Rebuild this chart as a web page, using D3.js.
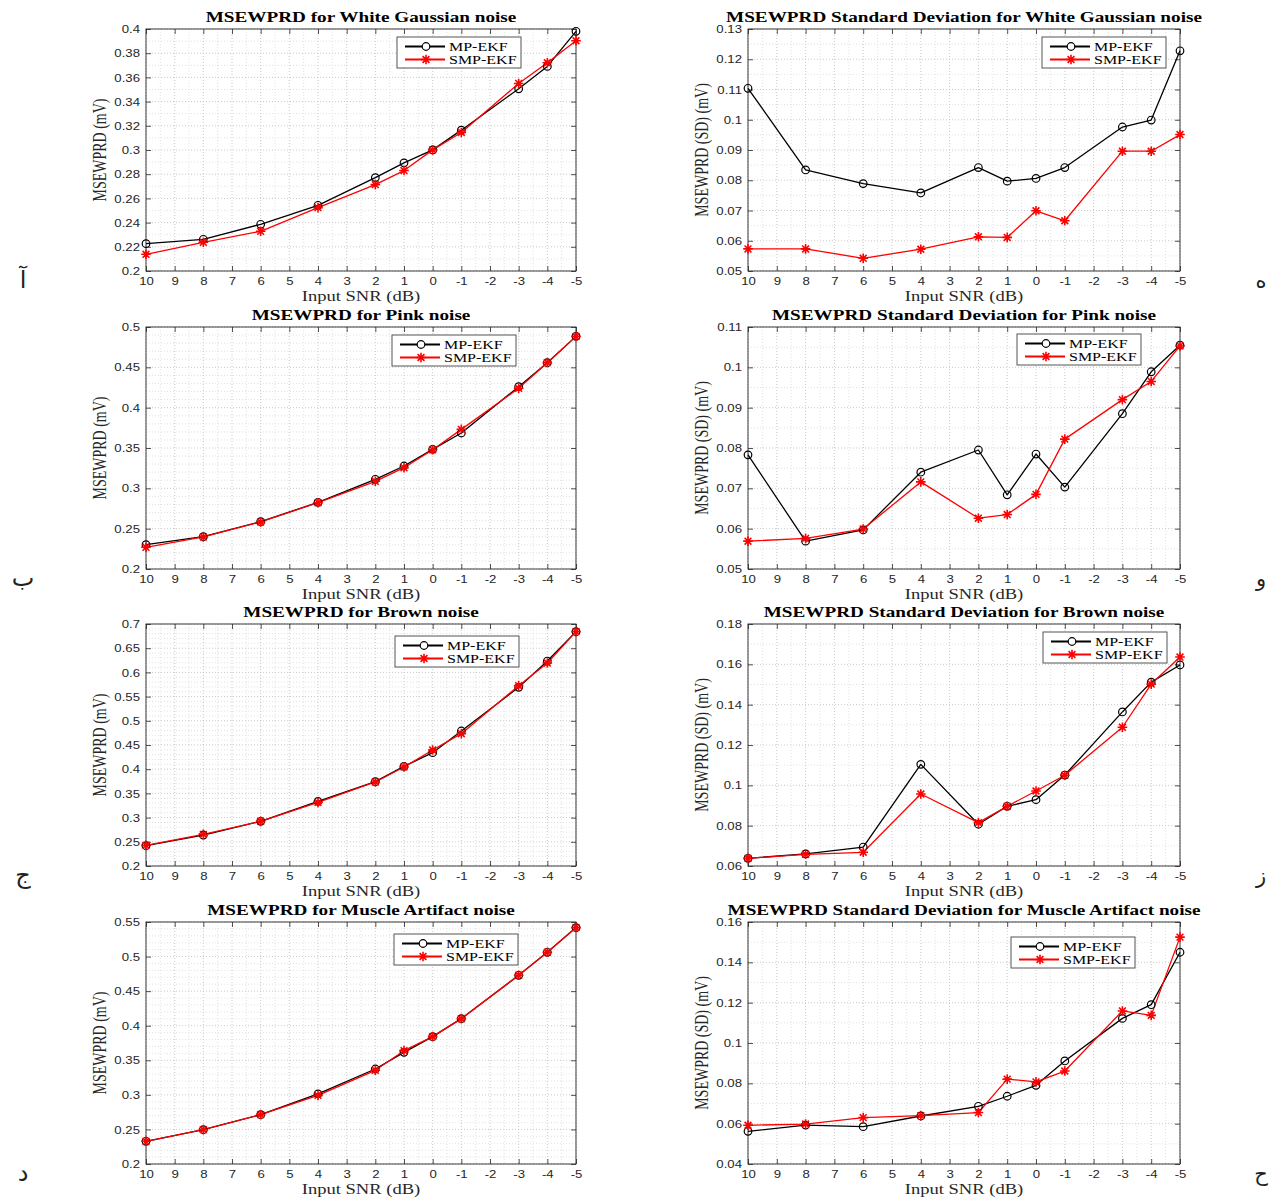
<!DOCTYPE html>
<html>
<head>
<meta charset="utf-8">
<script src="https://cdn.jsdelivr.net/npm/d3@7"></script>
<style>
  html, body { margin: 0; padding: 0; background: #fff; }
  svg { display: block; }
</style>
</head>
<body>
<svg id="fig" width="1274" height="1198"></svg>
<script>
// ---- data ---------------------------------------------------------------
const snrTicks = [10, 9, 8, 7, 6, 5, 4, 3, 2, 1, 0, -1, -2, -3, -4, -5];
const snrPoints = [10, 8, 6, 4, 2, 1, 0, -1, -3, -4, -5];
const seriesNames = ["MP-EKF", "SMP-EKF"];

const whiteMp  = [0.2226, 0.2262, 0.2386, 0.2543, 0.2772, 0.2894, 0.3001, 0.3164, 0.3506, 0.3691, 0.3981];
const whiteSmp = [0.2138, 0.2237, 0.2328, 0.2524, 0.2714, 0.2830, 0.3001, 0.3145, 0.3550, 0.3721, 0.3903];
const whiteSdMp  = [0.1104, 0.0834, 0.0789, 0.0758, 0.0842, 0.0797, 0.0806, 0.0842, 0.0976, 0.0999, 0.1228];
const whiteSdSmp = [0.0573, 0.0573, 0.0542, 0.0572, 0.0613, 0.0611, 0.0699, 0.0666, 0.0896, 0.0896, 0.0951];

const pinkMp  = [0.2302, 0.2401, 0.2587, 0.2826, 0.3112, 0.3277, 0.3483, 0.3686, 0.4260, 0.4558, 0.4884];
const pinkSmp = [0.2269, 0.2397, 0.2583, 0.2822, 0.3087, 0.3256, 0.3479, 0.3731, 0.4240, 0.4558, 0.4884];
const pinkSdMp  = [0.0783, 0.0569, 0.0597, 0.0740, 0.0795, 0.0684, 0.0785, 0.0703, 0.0885, 0.0989, 0.1055];
const pinkSdSmp = [0.0569, 0.0576, 0.0599, 0.0716, 0.0626, 0.0635, 0.0685, 0.0822, 0.0920, 0.0965, 0.1053];

const brownMp  = [0.2420, 0.2640, 0.2923, 0.3336, 0.3742, 0.4059, 0.4342, 0.4789, 0.5691, 0.6235, 0.6842];
const brownSmp = [0.2427, 0.2654, 0.2923, 0.3315, 0.3736, 0.4045, 0.4397, 0.4734, 0.5726, 0.6194, 0.6842];
const brownSdMp  = [0.0638, 0.0660, 0.0694, 0.1104, 0.0807, 0.0896, 0.0929, 0.1051, 0.1364, 0.1512, 0.1597];
const brownSdSmp = [0.0638, 0.0658, 0.0668, 0.0957, 0.0815, 0.0896, 0.0972, 0.1050, 0.1288, 0.1502, 0.1636];

const muscleMp  = [0.2328, 0.2497, 0.2714, 0.3013, 0.3374, 0.3615, 0.3842, 0.4102, 0.4729, 0.5062, 0.5419];
const muscleSmp = [0.2328, 0.2497, 0.2714, 0.2993, 0.3355, 0.3639, 0.3842, 0.4102, 0.4729, 0.5062, 0.5419];
const muscleSdMp  = [0.0562, 0.0593, 0.0585, 0.0638, 0.0686, 0.0736, 0.0790, 0.0911, 0.1122, 0.1190, 0.1450];
const muscleSdSmp = [0.0592, 0.0598, 0.0630, 0.0640, 0.0655, 0.0821, 0.0807, 0.0861, 0.1159, 0.1137, 0.1525];

const ticksW   = [0.2, 0.22, 0.24, 0.26, 0.28, 0.3, 0.32, 0.34, 0.36, 0.38, 0.4];
const ticksWsd = [0.05, 0.06, 0.07, 0.08, 0.09, 0.1, 0.11, 0.12, 0.13];
const ticksP   = [0.2, 0.25, 0.3, 0.35, 0.4, 0.45, 0.5];
const ticksPsd = [0.05, 0.06, 0.07, 0.08, 0.09, 0.1, 0.11];
const ticksB   = [0.2, 0.25, 0.3, 0.35, 0.4, 0.45, 0.5, 0.55, 0.6, 0.65, 0.7];
const ticksBsd = [0.06, 0.08, 0.1, 0.12, 0.14, 0.16, 0.18];
const ticksM   = [0.2, 0.25, 0.3, 0.35, 0.4, 0.45, 0.5, 0.55];
const ticksMsd = [0.04, 0.06, 0.08, 0.1, 0.12, 0.14, 0.16];

const titles = [
  "MSEWPRD for White Gaussian noise",
  "MSEWPRD Standard Deviation for White Gaussian noise",
  "MSEWPRD for Pink noise",
  "MSEWPRD Standard Deviation for Pink noise",
  "MSEWPRD for Brown noise",
  "MSEWPRD Standard Deviation for Brown noise",
  "MSEWPRD for Muscle Artifact noise",
  "MSEWPRD Standard Deviation for Muscle Artifact noise"
];
const panelLetters = ["آ", "ه", "ب", "و", "ج", "ز", "د", "ح"];
const xLabel = "Input SNR (dB)";
const yLabels = ["MSEWPRD (mV)", "MSEWPRD (SD) (mV)"];

// ---- layout -------------------------------------------------------------
const SX = 1.28;            // horizontal stretch of all lettering
const colX = [[146, 576], [748, 1180]];
const rowY = [[29, 271], [327, 569], [624, 866], [922, 1164]];

const panels = [
  { mp: whiteMp,   smp: whiteSmp,   ticks: ticksW,   minor: 0.01,  col: 0, row: 0, leg: [397, 37] },
  { mp: whiteSdMp, smp: whiteSdSmp, ticks: ticksWsd, minor: 0.005, col: 1, row: 0, leg: [1042, 37] },
  { mp: pinkMp,    smp: pinkSmp,    ticks: ticksP,   minor: 0.01,  col: 0, row: 1, leg: [392, 335] },
  { mp: pinkSdMp,  smp: pinkSdSmp,  ticks: ticksPsd, minor: 0.005, col: 1, row: 1, leg: [1017, 334] },
  { mp: brownMp,   smp: brownSmp,   ticks: ticksB,   minor: 0.01,  col: 0, row: 2, leg: [395, 636] },
  { mp: brownSdMp, smp: brownSdSmp, ticks: ticksBsd, minor: 0.01,  col: 1, row: 2, leg: [1043, 632] },
  { mp: muscleMp,  smp: muscleSmp,  ticks: ticksM,   minor: 0.01,  col: 0, row: 3, leg: [394, 934] },
  { mp: muscleSdMp,smp: muscleSdSmp,ticks: ticksMsd, minor: 0.01,  col: 1, row: 3, leg: [1011, 937] }
];

const svg = d3.select("#fig");
const fmt = v => String(+v.toFixed(4));
const asteriskPath = (() => {
  const r = 4.8, d = 3.4;
  return `M${-r},0L${r},0M0,${-r}L0,${r}M${-d},${-d}L${d},${d}M${-d},${d}L${d},${-d}`;
})();
const colors = ["#000000", "#ff0000"];

function stext(g, x, y, str, extra) {
  const t = g.append("text")
    .attr("transform", `translate(${x},${y}) scale(${SX},1)` + (extra || ""))
    .text(str);
  return t;
}

panels.forEach((p, i) => {
  const [x0, x1] = colX[p.col];
  const [y0, y1] = rowY[p.row];
  const yMin = p.ticks[0], yMax = p.ticks[p.ticks.length - 1];

  const x = d3.scaleLinear().domain([10, -5]).range([x0, x1]);
  const y = d3.scaleLinear().domain([yMin, yMax]).range([y1, y0]);

  const g = svg.append("g");

  // background
  g.append("rect").attr("x", x0).attr("y", y0)
    .attr("width", x1 - x0).attr("height", y1 - y0).attr("fill", "#fff");

  // minor grid
  const xMinor = d3.range(10, -5.01, -0.5).filter(v => !Number.isInteger(v));
  const nMinor = Math.round((yMax - yMin) / p.minor);
  const yMinor = d3.range(0, nMinor + 1).map(k => yMin + k * p.minor)
    .filter(v => !p.ticks.some(t => Math.abs(t - v) < 1e-9));
  const grid = g.append("g").attr("stroke-dasharray", "1,2").attr("fill", "none");
  grid.selectAll(".mx").data(xMinor).join("line")
    .attr("x1", d => x(d)).attr("x2", d => x(d)).attr("y1", y0).attr("y2", y1)
    .attr("stroke", "#d9d9d9").attr("stroke-width", 0.8);
  grid.selectAll(".my").data(yMinor).join("line")
    .attr("y1", d => y(d)).attr("y2", d => y(d)).attr("x1", x0).attr("x2", x1)
    .attr("stroke", "#d9d9d9").attr("stroke-width", 0.8);
  // major grid
  grid.selectAll(".gx").data(snrTicks).join("line")
    .attr("x1", d => x(d)).attr("x2", d => x(d)).attr("y1", y0).attr("y2", y1)
    .attr("stroke", "#bdbdbd").attr("stroke-width", 0.8);
  grid.selectAll(".gy").data(p.ticks).join("line")
    .attr("y1", d => y(d)).attr("y2", d => y(d)).attr("x1", x0).attr("x2", x1)
    .attr("stroke", "#bdbdbd").attr("stroke-width", 0.8);

  // axes (ticks drawn inward on all four sides)
  const axStyle = sel => {
    sel.select(".domain").remove();
    sel.selectAll(".tick line").attr("stroke", "#262626").attr("stroke-width", 0.8);
    sel.selectAll("text").attr("font-family", "'Liberation Sans', Arial, sans-serif")
      .attr("font-size", 10.3).attr("fill", "#262626");
  };
  const bottom = g.append("g").attr("transform", `translate(0,${y1})`)
    .call(d3.axisBottom(x).tickValues(snrTicks).tickSize(-5).tickFormat(d => String(d)))
    .call(axStyle);
  bottom.selectAll(".tick text")
    .attr("y", null).attr("dy", null)
    .attr("transform", `translate(0,14) scale(${SX},1)`);
  g.append("g").attr("transform", `translate(0,${y0})`)
    .call(d3.axisTop(x).tickValues(snrTicks).tickSize(-5).tickFormat(""))
    .call(axStyle);
  const left = g.append("g").attr("transform", `translate(${x0},0)`)
    .call(d3.axisLeft(y).tickValues(p.ticks).tickSize(-5).tickFormat(fmt))
    .call(axStyle);
  left.selectAll(".tick text")
    .attr("x", null).attr("dy", null)
    .attr("transform", `translate(-6,3.6) scale(${SX},1)`);
  g.append("g").attr("transform", `translate(${x1},0)`)
    .call(d3.axisRight(y).tickValues(p.ticks).tickSize(-5).tickFormat(""))
    .call(axStyle);

  // plot box
  g.append("rect").attr("x", x0).attr("y", y0)
    .attr("width", x1 - x0).attr("height", y1 - y0)
    .attr("fill", "none").attr("stroke", "#262626").attr("stroke-width", 0.9);

  // series
  const line = d3.line().x((d, k) => x(snrPoints[k])).y(d => y(d));
  [p.mp, p.smp].forEach((vals, s) => {
    g.append("path").datum(vals).attr("d", line)
      .attr("fill", "none").attr("stroke", colors[s]).attr("stroke-width", 1.3)
      .attr("stroke-linejoin", "round");
  });
  // markers: black circles for MP-EKF, red asterisks for SMP-EKF
  g.append("g").selectAll("circle").data(p.mp).join("circle")
    .attr("cx", (d, k) => x(snrPoints[k])).attr("cy", d => y(d)).attr("r", 3.8)
    .attr("fill", "none").attr("stroke", colors[0]).attr("stroke-width", 1.2);
  g.append("g").selectAll("path").data(p.smp).join("path")
    .attr("transform", (d, k) => `translate(${x(snrPoints[k])},${y(d)})`)
    .attr("d", asteriskPath).attr("fill", "none")
    .attr("stroke", colors[1]).attr("stroke-width", 1.6);

  // title
  stext(g, (x0 + x1) / 2, y0 - 7, titles[i])
    .attr("text-anchor", "middle")
    .attr("font-family", "'Liberation Serif', 'Times New Roman', serif")
    .attr("font-weight", "bold").attr("font-size", 15).attr("fill", "#000");

  // axis labels
  stext(g, (x0 + x1) / 2, y1 + 30, xLabel)
    .attr("text-anchor", "middle")
    .attr("font-family", "'Liberation Serif', 'Times New Roman', serif")
    .attr("font-size", 14.5).attr("fill", "#262626");
  stext(g, x0 - 40, (y0 + y1) / 2, yLabels[p.col], " rotate(-90)")
    .attr("text-anchor", "middle")
    .attr("font-family", "'Liberation Serif', 'Times New Roman', serif")
    .attr("font-size", 14).attr("fill", "#262626");

  // legend
  const [lx, ly] = p.leg;
  const lg = g.append("g").attr("transform", `translate(${lx},${ly})`);
  lg.append("rect").attr("width", 124).attr("height", 31)
    .attr("fill", "#fff").attr("stroke", "#555").attr("stroke-width", 1);
  seriesNames.forEach((name, s) => {
    const cy = 9.5 + s * 13;
    lg.append("line").attr("x1", 8).attr("x2", 48).attr("y1", cy).attr("y2", cy)
      .attr("stroke", colors[s]).attr("stroke-width", 2.2);
    if (s === 0) {
      lg.append("circle").attr("cx", 29).attr("cy", cy).attr("r", 3.8)
        .attr("fill", "#fff").attr("stroke", colors[0]).attr("stroke-width", 1.2);
    } else {
      lg.append("path").attr("transform", `translate(29,${cy})`)
        .attr("d", asteriskPath).attr("fill", "none")
        .attr("stroke", colors[1]).attr("stroke-width", 1.6);
    }
    stext(lg, 52, cy + 4.3, name)
      .attr("font-family", "'Liberation Serif', 'Times New Roman', serif")
      .attr("font-size", 12.5).attr("fill", "#000");
  });

  // sub-figure letter
  const lxPos = p.col === 0 ? 23 : 1261;
  const lyPos = p.col === 0 ? y1 + 17 : y1 + 17;
  svg.append("text").attr("x", lxPos).attr("y", lyPos)
    .attr("text-anchor", "middle")
    .attr("font-family", "'DejaVu Sans', sans-serif")
    .attr("font-size", p.col === 0 ? 24 : 21).attr("fill", "#222")
    .text(panelLetters[i]);
});
</script>
</body>
</html>
